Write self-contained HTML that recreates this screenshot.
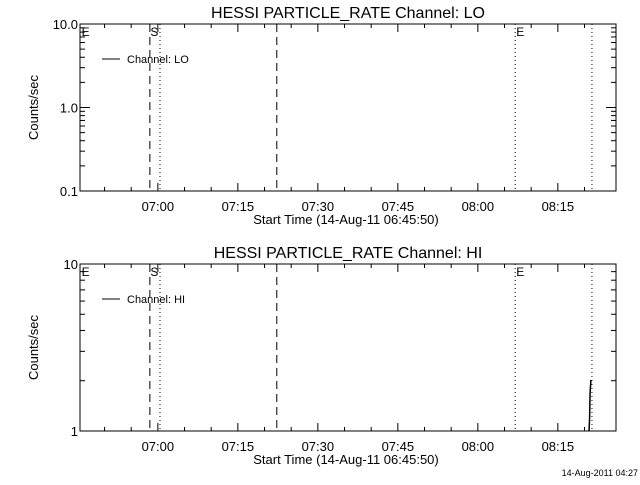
<!DOCTYPE html>
<html><head><meta charset="utf-8"><style>
body{margin:0;background:#fff}
svg text{font-family:"Liberation Sans",sans-serif;fill:#000}
</style></head><body>
<svg id="c" width="640" height="480" xmlns="http://www.w3.org/2000/svg"></svg>
<script>
const xTickLabels=["07:00","07:15","07:30","07:45","08:00","08:15"];
const xTickMinutes=[14.6,29.6,44.6,59.6,74.6,89.6];
const vlineMinutes=[13.1,15.0,36.9,81.6,96.0];
const vlineStyles=["dash","dot","dash","dot","dot"];
const flagLabels=["E","S","E"];
const flagMinutes=[0.3,13.2,81.8];
const loTimes=[];
const loValues=[];
const hiTimes=[95.45,95.55,95.65,95.8];
const hiValues=[1.0,1.18,1.7,2.02];
const NS="http://www.w3.org/2000/svg";
const svg=document.getElementById('c');
function mk(t,a,p){const e=document.createElementNS(NS,t);for(const k in a)e.setAttribute(k,a[k]);(p||svg).appendChild(e);return e;}
const X0=80,X1=616,PXM=5.333;
function xs(m){return X0+m*PXM;}
function panel(top,bot,ymin,ymax,title,leg,times,vals,majors,majLbl,name){
  const g=mk('g',{});
  
  
  const ys=v=>bot-(Math.log10(v)-Math.log10(ymin))/(Math.log10(ymax)-Math.log10(ymin))*(bot-top);
  const fr=mk('rect',{x:X0,y:top,width:X1-X0,height:bot-top,fill:'none',stroke:'#000','stroke-width':1},g);
  
  const t=mk('text',{x:(X0+X1)/2,y:top-6,'font-size':16,'text-anchor':'middle'},g);t.textContent=title;
  
  for(let m=4.6;m<99;m+=5){const x=xs(m);const maj=xTickMinutes.some(v=>Math.abs(v-m)<0.1);const L=maj?8:4;
    mk('line',{x1:x,x2:x,y1:bot,y2:bot-L,stroke:'#000'},g);mk('line',{x1:x,x2:x,y1:top,y2:top+L,stroke:'#000'},g);}
  xTickLabels.forEach((l,i)=>{const e=mk('text',{x:xs(xTickMinutes[i]),y:bot+20,'font-size':13,'text-anchor':'middle'},g);e.textContent=l;
    });
  const xt=mk('text',{x:(X0+X1)/2-2,y:bot+33,'font-size':13,'text-anchor':'middle'},g);xt.textContent='Start Time (14-Aug-11 06:45:50)';
  
  for(let d=Math.log10(ymin);d<Math.log10(ymax)-0.01;d++){for(let k=1;k<=10;k++){const v=Math.pow(10,d)*k;const y=ys(v);const L=(k==1||k==10)?10:5;
    mk('line',{x1:X0,x2:X0+L,y1:y,y2:y,stroke:'#000'},g);mk('line',{x1:X1,x2:X1-L,y1:y,y2:y,stroke:'#000'},g);}}
  majors.forEach((v,i)=>{const e=mk('text',{x:X0-2,y:ys(v)+5,'font-size':13,'text-anchor':'end'},g);e.textContent=majLbl[i];
    });
  const yt=mk('text',{x:0,y:0,'font-size':13,'text-anchor':'middle',transform:`translate(38,${(top+bot)/2}) rotate(-90)`},g);yt.textContent='Counts/sec';
  
  vlineMinutes.forEach((m,i)=>{const l=mk('line',{x1:xs(m),x2:xs(m),y1:top,y2:bot,stroke:'#000','stroke-width':1,'stroke-dasharray':vlineStyles[i]=='dash'?'8,5':'1,3'},g);
    });
  flagLabels.forEach((s,i)=>{const e=mk('text',{x:xs(flagMinutes[i]),y:top+12,'font-size':12},g);e.textContent=s;
    });
  mk('line',{x1:102,x2:120,y1:top+35,y2:top+35,stroke:'#000'},g);
  const lg=mk('text',{x:127,y:top+39,'font-size':11},g);lg.textContent=leg;
  
  if(times.length){const p=mk('polyline',{points:times.map((m,i)=>xs(m)+','+ys(vals[i])).join(' '),fill:'none',stroke:'#000','stroke-width':1.5},g);
    }
}
panel(24,191,0.1,10,'HESSI PARTICLE_RATE Channel: LO','Channel: LO',loTimes,loValues,[0.1,1,10],['0.1','1.0','10.0'],'panel-lo');
panel(264,431,1,10,'HESSI PARTICLE_RATE Channel: HI','Channel: HI',hiTimes,hiValues,[1,10],['1','10'],'panel-hi');
const ts=mk('text',{x:638,y:476,'font-size':9,'text-anchor':'end'});ts.textContent='14-Aug-2011 04:27';

</script>
</body></html>
